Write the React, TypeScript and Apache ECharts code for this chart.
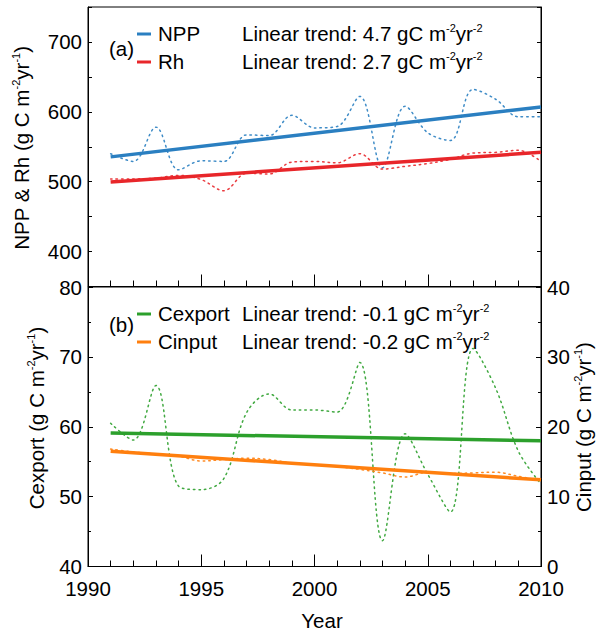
import React, { useEffect, useRef } from "react";
import * as echarts from "echarts";

const years = [1991, 1992, 1993, 1994, 1995, 1996, 1997, 1998, 1999, 2000, 2001, 2002, 2003, 2004, 2005, 2006, 2007, 2008, 2009, 2010];
const npp = [540, 529, 578, 517, 530, 529, 567, 566, 595, 577, 579, 622, 520, 608, 570, 559, 632, 618, 593, 593];
const rh = [504, 504, 505, 509, 503, 487, 512, 511, 528, 529, 527, 540, 518, 522, 526, 532, 541, 542, 545, 529];
const cexport = [60.5, 58.1, 65.9, 51.5, 51.0, 52.6, 62.0, 64.7, 62.4, 62.4, 62.1, 69.2, 43.7, 59.0, 53.2, 47.8, 71.2, 65.5, 56.5, 51.8];
const cinput = [16.8, 16.4, 16.1, 15.8, 15.1, 15.3, 15.5, 15.3, 14.8, 14.6, 14.3, 13.9, 13.4, 12.8, 13.5, 13.3, 13.4, 13.5, 12.9, 12.3];

const trendYears = [1991, 2010];
const nppTrend = [535.5, 607];
const rhTrend = [499.6, 542];
const cexportTrend = [59.1, 58.0];
const cinputTrend = [16.5, 12.4];

const xTicks = { min: 1990, max: 2010, interval: 5 };

const C_NPP = "#2a7fc1";
const C_RH = "#e8262a";
const C_CEX = "#2ca02c";
const C_CIN = "#ff7f0e";
const FONT = "Liberation Sans, Arial, sans-serif";
const FS = 20.5;

const pairs = (xs: number[], ys: number[]) => xs.map((x, i) => [x, ys[i]]);

export default function App() {
  const ref = useRef<HTMLDivElement>(null);
  useEffect(() => {
    if (!ref.current) return;
    const chart = echarts.init(ref.current, null, { renderer: "svg" });

    const gridL = 88;
    const gridR = 59;
    const g0Top = 7;
    const g1Top = 287;
    const gH = 279.5;

    const tickLabel = { color: "#000", fontSize: FS, fontFamily: FONT };
    const axisLine = { show: true, onZero: false, lineStyle: { color: "#000", width: 1 } };

    const xAxisBase = (gridIndex: number, showLabel: boolean) => ({
      type: "value",
      gridIndex,
      min: xTicks.min,
      max: xTicks.max,
      interval: xTicks.interval,
      axisLine,
      axisTick: { show: true, inside: true, length: 12, lineStyle: { color: "#000" } },
      minorTick: { show: true, splitNumber: 5, length: 6, lineStyle: { color: "#000" } },
      splitLine: { show: false },
      axisLabel: { show: showLabel, ...tickLabel, margin: 11, formatter: (v: number) => String(v) },
    });

    const sup = { fontSize: 11, fontFamily: FONT, verticalAlign: "top", fill: "#000", color: "#000" };
    const txt = (text: string, x: number, y: number, extra: any = {}) => ({
      type: "text",
      x,
      y,
      rotation: extra.rotation || 0,
      style: {
        text,
        fill: "#000",
        fontSize: FS,
        fontFamily: FONT,
        align: extra.align || "left",
        textAlign: extra.align || "left",
        verticalAlign: "middle",
        textVerticalAlign: "middle",
        rich: { s: sup },
      },
    });
    const dash = (color: string, y: number) => ({
      type: "line",
      shape: { x1: 137, y1: y, x2: 151, y2: y },
      style: { stroke: color, lineWidth: 3 },
    });

    const dotted = (color: string) => ({ color, width: 1.5, type: [1.5, 4], cap: "round", opacity: 0.9 });
    const solid = (color: string) => ({ color, width: 3.5 });

    chart.setOption({
      animation: false,
      backgroundColor: "#fff",
      grid: [
        { left: gridL, right: gridR, top: g0Top, height: gH, show: true, borderColor: "#000", borderWidth: 1 },
        { left: gridL, right: gridR, top: g1Top, height: gH, show: true, borderColor: "#000", borderWidth: 1 },
      ],
      xAxis: [xAxisBase(0, false), xAxisBase(1, true)],
      yAxis: [
        {
          type: "value", gridIndex: 0, position: "left", min: 350, max: 750, interval: 50,
          axisLine, splitLine: { show: false },
          axisTick: { show: true, inside: true, length: 4, lineStyle: { color: "#000" } },
          axisLabel: { ...tickLabel, margin: 6, formatter: (v: number) => (v % 100 === 0 ? String(v) : "") },
        },
        {
          type: "value", gridIndex: 0, position: "right", min: 350, max: 750, interval: 50,
          axisLine, splitLine: { show: false },
          axisTick: { show: true, inside: true, length: 4, lineStyle: { color: "#000" } },
          axisLabel: { show: false },
        },
        {
          type: "value", gridIndex: 1, position: "left", min: 40, max: 80, interval: 10,
          axisLine, splitLine: { show: false },
          axisTick: { show: true, inside: true, length: 5, lineStyle: { color: "#000" } },
          minorTick: { show: true, splitNumber: 2, length: 3, lineStyle: { color: "#000" } },
          axisLabel: { ...tickLabel, margin: 6 },
        },
        {
          type: "value", gridIndex: 1, position: "right", min: 0, max: 40, interval: 10,
          axisLine, splitLine: { show: false },
          axisTick: { show: true, inside: true, length: 5, lineStyle: { color: "#000" } },
          minorTick: { show: true, splitNumber: 2, length: 3, lineStyle: { color: "#000" } },
          axisLabel: { ...tickLabel, margin: 6 },
        },
      ],
      series: [
        { name: "NPP", type: "line", xAxisIndex: 0, yAxisIndex: 0, data: pairs(years, npp), smooth: 0.35, showSymbol: false, lineStyle: dotted(C_NPP), z: 2 },
        { name: "Rh", type: "line", xAxisIndex: 0, yAxisIndex: 0, data: pairs(years, rh), smooth: 0.35, showSymbol: false, lineStyle: dotted(C_RH), z: 2 },
        { name: "NPP trend", type: "line", xAxisIndex: 0, yAxisIndex: 0, data: pairs(trendYears, nppTrend), showSymbol: false, lineStyle: solid(C_NPP), z: 3 },
        { name: "Rh trend", type: "line", xAxisIndex: 0, yAxisIndex: 0, data: pairs(trendYears, rhTrend), showSymbol: false, lineStyle: solid(C_RH), z: 3 },
        { name: "Cexport", type: "line", xAxisIndex: 1, yAxisIndex: 2, data: pairs(years, cexport), smooth: 0.35, showSymbol: false, lineStyle: dotted(C_CEX), z: 2 },
        { name: "Cinput", type: "line", xAxisIndex: 1, yAxisIndex: 3, data: pairs(years, cinput), smooth: 0.35, showSymbol: false, lineStyle: dotted(C_CIN), z: 2 },
        { name: "Cexport trend", type: "line", xAxisIndex: 1, yAxisIndex: 2, data: pairs(trendYears, cexportTrend), showSymbol: false, lineStyle: solid(C_CEX), z: 3 },
        { name: "Cinput trend", type: "line", xAxisIndex: 1, yAxisIndex: 3, data: pairs(trendYears, cinputTrend), showSymbol: false, lineStyle: solid(C_CIN), z: 3 },
      ],
      graphic: [
        txt("(a)", 109, 48),
        dash(C_NPP, 34),
        dash(C_RH, 62),
        txt("NPP", 158, 33),
        txt("Rh", 158, 61),
        txt("Linear trend: 4.7 gC m{s|-2}yr{s|-2}", 242, 33),
        txt("Linear trend: 2.7 gC m{s|-2}yr{s|-2}", 242, 61),
        txt("(b)", 109, 324),
        dash(C_CEX, 314),
        dash(C_CIN, 342),
        txt("Cexport", 158, 313),
        txt("Cinput", 158, 341),
        txt("Linear trend: -0.1 gC m{s|-2}yr{s|-2}", 242, 313),
        txt("Linear trend: -0.2 gC m{s|-2}yr{s|-2}", 242, 341),
        txt("NPP & Rh (g C m{s|-2}yr{s|-1})", 21, 148, { rotation: Math.PI / 2, align: "center" }),
        txt("Cexport (g C m{s|-2}yr{s|-1})", 36, 418, { rotation: Math.PI / 2, align: "center" }),
        txt("Cinput (g C m{s|-2}yr{s|-1})", 583, 427, { rotation: Math.PI / 2, align: "center" }),
        txt("Year", 322, 620, { align: "center" }),
      ],
    });
    return () => chart.dispose();
  }, []);
  return <div ref={ref} style={{ width: 600, height: 642, position: "absolute", left: 0, top: 0 }} />;
}
